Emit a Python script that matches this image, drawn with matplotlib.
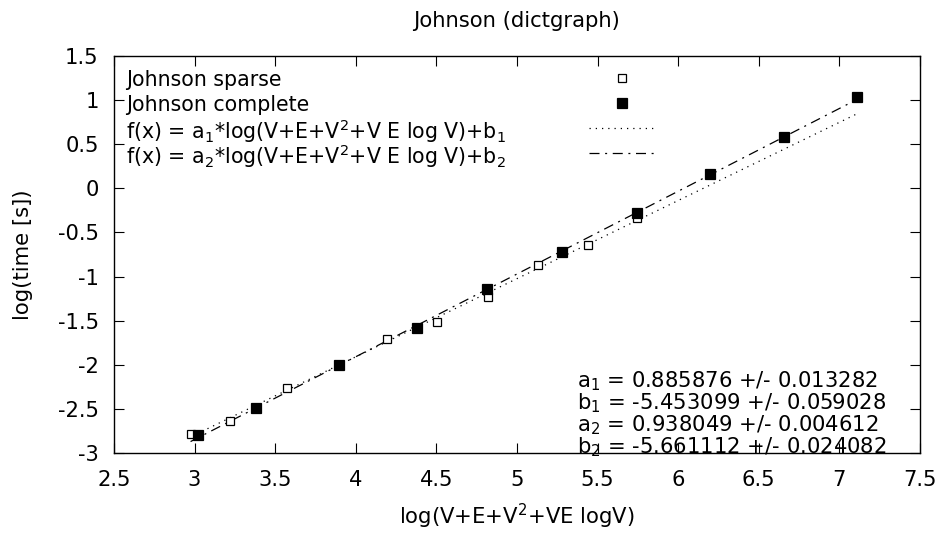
import numpy as np
import matplotlib
matplotlib.use('Agg')
from matplotlib import pyplot as plt

plt.rcParams['font.family'] = 'DejaVu Sans'
plt.rcParams['axes.unicode_minus'] = False
plt.rcParams['mathtext.fontset'] = 'dejavusans'

# Johnson sparse (open squares)
sparse_x = [2.975, 3.219, 3.572, 4.191, 4.506, 4.819, 5.129, 5.443, 5.747]
sparse_y = [-2.789, -2.635, -2.268, -1.712, -1.516, -1.229, -0.870, -0.643, -0.337]

# Johnson complete (filled squares)
complete_x = [3.022, 3.380, 3.896, 4.379, 4.813, 5.280, 5.742, 6.199, 6.659, 7.108]
complete_y = [-2.797, -2.494, -2.003, -1.587, -1.138, -0.722, -0.280, 0.159, 0.585, 1.035]

# fit parameters
a1, a1_err = 0.885876, 0.013282
b1, b1_err = -5.453099, 0.059028
a2, a2_err = 0.938049, 0.004612
b2, b2_err = -5.661112, 0.024082

fs = 15.2
key_fs = 14.8
dot_style = dict(color='black', lw=0.9, dashes=(1.0, 4.0))
dashdot_style = dict(color='black', lw=0.9, dashes=(8, 4.5, 1.6, 4.5))
open_sq = dict(marker='s', ms=6, mfc='white', mec='black', mew=0.9, ls='none')
full_sq = dict(marker='s', ms=6.5, mfc='black', mec='black', mew=0.9, ls='none')

fig = plt.figure(figsize=(9.44, 5.35), dpi=100)
ax = fig.add_axes([114 / 944, 1 - 453 / 535, 806 / 944, 397 / 535])

x_lo = min(min(sparse_x), min(complete_x))
x_hi = max(max(sparse_x), max(complete_x))
xf = np.linspace(x_lo, x_hi, 200)

ax.plot(xf, a1 * xf + b1, **dot_style)
ax.plot(xf, a2 * xf + b2, **dashdot_style)
ax.plot(sparse_x, sparse_y, **open_sq)
ax.plot(complete_x, complete_y, **full_sq)

ax.set_xlim(2.5, 7.5)
ax.set_ylim(-3, 1.5)
xt = np.arange(2.5, 7.51, 0.5)
yt = np.arange(-3, 1.51, 0.5)
ax.set_xticks(xt)
ax.set_yticks(yt)
ax.set_xticklabels(['%g' % v for v in xt])
ax.set_yticklabels(['%g' % v for v in yt])
ax.tick_params(direction='in', length=7.2, width=0.8, top=True, right=True,
               labelsize=fs)
ax.tick_params(axis='x', pad=12)
ax.tick_params(axis='y', pad=11)
for s in ax.spines.values():
    s.set_linewidth(1.0)

ax.set_xlabel(r'log(V+E+V$^2$+VE logV)', fontsize=fs, labelpad=9)
ax.set_ylabel('log(time [s])', fontsize=fs, labelpad=17.5)
ax.set_title('Johnson (dictgraph)', fontsize=fs, pad=21)

# gnuplot style key: text left, sample on the right
key_labels = [
    'Johnson sparse',
    'Johnson complete',
    r'f(x) = a$_1$*log(V+E+V$^2$+V E log V)+b$_1$',
    r'f(x) = a$_2$*log(V+E+V$^2$+V E log V)+b$_2$',
]
key_styles = [open_sq, full_sq, dot_style, dashdot_style]
key_y = [0.9446, 0.8816, 0.8186, 0.7555]
for lab, st, ky in zip(key_labels, key_styles, key_y):
    ax.text(0.015, ky, lab, transform=ax.transAxes, fontsize=key_fs,
            va='center_baseline', ha='left')
    if 'marker' in st:
        ax.plot([0.630], [ky], transform=ax.transAxes, clip_on=False, **st)
    else:
        ax.plot([0.589, 0.671], [ky, ky], transform=ax.transAxes, **st)

fit_lines = [
    r'a$_1$ = %.6f +/- %.6f' % (a1, a1_err),
    r'b$_1$ = %.6f +/- %.6f' % (b1, b1_err),
    r'a$_2$ = %.6f +/- %.6f' % (a2, a2_err),
    r'b$_2$ = %.6f +/- %.6f' % (b2, b2_err),
]
for i, t in enumerate(fit_lines):
    ax.text(0.574, 0.166 - i * 0.0557, t, transform=ax.transAxes,
            fontsize=fs, va='baseline', ha='left')

plt.savefig('out.png', dpi=100)
